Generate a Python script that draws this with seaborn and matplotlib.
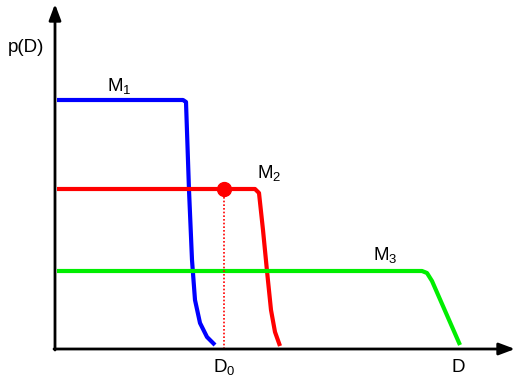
import matplotlib
matplotlib.use("Agg")
import matplotlib.pyplot as plt
import seaborn as sns
import pandas as pd

# Data (chart units: origin at the axes corner)
m1_d = [2, 128, 131, 134, 137, 140, 145, 152, 160]
m1_p = [249, 249, 247, 159, 89, 49, 26, 12, 4]
m2_d = [2, 200, 204, 208, 212, 216, 220, 225]
m2_p = [160, 160, 156, 119, 78, 39, 17, 3]
m3_d = [2, 367, 372, 377, 405]
m3_p = [78, 78, 76, 68, 4]
d0 = 169
p_d0 = 160

sns.set_theme(style="white")
plt.rcParams['font.family'] = ['Liberation Sans', 'DejaVu Sans']
plt.rcParams['mathtext.default'] = 'regular'
plt.rcParams['text.color'] = 'black'

fig = plt.figure(figsize=(5.19, 3.83), dpi=100)
ax = fig.add_axes([0, 0, 1, 1])
ax.set_xlim(-55, 464)
ax.set_ylim(-34, 349)
ax.axis('off')

df = pd.concat([
    pd.DataFrame({'D': m1_d, 'p': m1_p, 'model': 'M1'}),
    pd.DataFrame({'D': m2_d, 'p': m2_p, 'model': 'M2'}),
    pd.DataFrame({'D': m3_d, 'p': m3_p, 'model': 'M3'}),
])
palette = {'M1': '#0000ff', 'M2': '#ff0000', 'M3': '#00ee00'}
sns.lineplot(data=df, x='D', y='p', hue='model', units='model', estimator=None,
             sort=False, palette=palette, linewidth=3, legend=False, ax=ax,
             solid_joinstyle='round', solid_capstyle='butt')

# dotted drop line and marker
ax.plot([d0, d0], [0, p_d0], color='#ff0000', lw=1.2, ls=(0, (1, 1.2)))
ax.plot([d0], [p_d0], 'o', color='#ff0000', markersize=10)

# axes with arrows
ax.annotate('', xy=(460, 0), xytext=(-1, 0),
            arrowprops=dict(arrowstyle='-|>,head_length=0.8,head_width=0.3', color='black', lw=2, shrinkA=0, shrinkB=0))
ax.annotate('', xy=(0, 345), xytext=(0, -1),
            arrowprops=dict(arrowstyle='-|>,head_length=0.8,head_width=0.3', color='black', lw=2, shrinkA=0, shrinkB=0))

fs = 13.5
ax.text(-29, 301, 'p(D)', fontsize=fs, ha='center', va='center', color='black')
ax.text(52, 263, 'M$_1$', fontsize=fs, ha='left', va='center', color='black')
ax.text(202, 176, 'M$_2$', fontsize=fs, ha='left', va='center', color='black')
ax.text(318, 94, 'M$_3$', fontsize=fs, ha='left', va='center', color='black')
ax.text(d0, -18, 'D$_0$', fontsize=fs, ha='center', va='center', color='black')
ax.text(403, -18, 'D', fontsize=fs, ha='center', va='center', color='black')

fig.savefig('out.png', dpi=100)
